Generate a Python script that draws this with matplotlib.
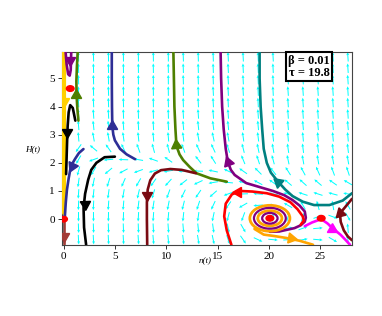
import numpy as np
import matplotlib.pyplot as plt
from matplotlib.patches import Ellipse

# direction field: screen angle (deg) of each cyan arrow, rows top -> bottom
field_n = np.linspace(0, 27.7, 20)
field_H = np.linspace(5.77, -0.73, 17)
field_angle = [
    [270, 92, 92, 91, 91, 91, 91, 91, 92, 92, 92, 93, 93, 93, 93, 94, 94, 94, 94, 94],
    [270, 92, 92, 91, 91, 91, 91, 91, 92, 92, 92, 93, 93, 93, 93, 94, 94, 94, 94, 94],
    [270, 92, 92, 91, 91, 91, 91, 91, 92, 92, 92, 93, 93, 93, 93, 94, 94, 94, 94, 94],
    [270, 93, 92, 92, 91, 91, 91, 91, 92, 92, 93, 93, 93, 93, 93, 94, 94, 94, 94, 94],
    [270, 93, 93, 92, 92, 91, 91, 92, 92, 93, 93, 93, 93, 93, 94, 94, 94, 94, 94, 94],
    [270, 94, 94, 93, 92, 92, 92, 92, 93, 94, 94, 94, 94, 94, 94, 94, 94, 94, 94, 94],
    [270, 95, 96, 96, 94, 93, 93, 93, 95, 96, 97, 96, 95, 95, 95, 95, 95, 95, 95, 95],
    [270, 95, 100, 100, 98, 96, 95, 95, 97, 100, 102, 100, 98, 97, 96, 95, 95, 95, 95, 95],
    [270, 235, 140, 125, 115, 110, 105, 105, 110, 115, 115, 108, 104, 102, 100, 98, 97, 97, 97, 97],
    [270, 240, 200, 185, 178, 170, 160, 145, 132, 128, 122, 116, 112, 108, 105, 102, 100, 100, 100, 100],
    [270, 255, 240, 220, 208, 200, 195, 190, 184, 178, 168, 155, 145, 135, 128, 122, 118, 114, 110, 108],
    [270, 262, 258, 252, 246, 240, 235, 228, 218, 205, 190, 175, 162, 152, 145, 140, 138, 140, 145, 150],
    [270, 266, 264, 262, 260, 257, 254, 250, 244, 236, 222, 200, 182, 175, 170, 166, 162, 162, 165, 170],
    [270, 268, 267, 266, 265, 263, 261, 259, 256, 252, 245, 235, 210, 185, 170, 150, 120, 105, 100, 120],
    [270, 270, 270, 269, 268, 267, 266, 265, 264, 262, 258, 255, 250, 260, 80, 75, 70, 20, 340, 300],
    [270, 272, 272, 272, 272, 272, 273, 274, 275, 276, 278, 282, 300, 330, 355, 10, 20, 5, 330, 95],
    [270, 273, 273, 273, 273, 274, 275, 276, 277, 279, 282, 288, 305, 335, 355, 5, 10, 355, 330, 100],
]

# trajectories (n, H)
yellow_n = [0.03, 0.03]
yellow_H = [5.95, 0.2]
brown_n = [0.0, 0.0]
brown_H = [0.0, -0.9]
black1_n = [1.15, 0.9, 0.65, 0.5, 0.4, 0.35, 0.3, 0.25]
black1_H = [3.5, 3.95, 4.05, 3.8, 3.3, 2.8, 2.2, 1.6]
black2_n = [5.0, 4.0, 3.2, 2.7, 2.4, 2.1, 1.95, 2.0, 2.2]
black2_H = [2.22, 2.2, 2.0, 1.75, 1.4, 0.9, 0.4, -0.3, -0.91]
blue1_n = [4.7, 4.7, 4.72, 4.75, 4.85, 5.0, 5.5, 6.15, 6.97]
blue1_H = [5.95, 5.0, 4.0, 3.3, 3.0, 2.8, 2.5, 2.3, 2.13]
blue2_n = [0.12, 0.22, 0.33, 0.5, 0.65, 0.85, 1.14, 1.5, 1.94]
blue2_H = [0.05, 0.6, 1.04, 1.45, 1.75, 1.97, 2.15, 2.35, 2.49]
green1_n = [1.45, 1.35, 1.27, 1.25, 1.3, 1.38]
green1_H = [3.5, 3.9, 4.4, 4.9, 5.4, 5.95]
green2_n = [10.7, 10.75, 10.8, 10.9, 11.0, 11.3, 11.65, 12.3, 12.95, 14.3, 15.9]
green2_H = [5.95, 5.0, 4.0, 3.2, 2.6, 2.3, 2.1, 1.85, 1.63, 1.45, 1.33]
maroon1_n = [12.9, 11.5, 10.4, 9.5, 8.9, 8.45, 8.2, 8.12, 8.12, 8.15]
maroon1_H = [1.63, 1.75, 1.78, 1.74, 1.62, 1.38, 1.05, 0.6, 0.0, -0.91]
maroon2_n = [28.1, 27.6, 27.1, 26.95, 27.0, 27.3, 27.7, 28.1]
maroon2_H = [0.72, 0.5, 0.28, 0.1, -0.1, -0.4, -0.62, -0.75]
purple1_n = [0.2, 0.3, 0.45, 0.6, 0.7, 0.75]
purple1_H = [5.95, 5.5, 5.15, 5.1, 5.3, 5.95]
purple2_n = [15.3, 15.35, 15.45, 15.6, 15.8, 16.0, 16.3, 16.67, 17.8, 19.0, 20.4,
             21.5, 22.3, 23.0, 23.5, 23.6, 23.5, 23.1, 22.5, 21.0, 20.1]
purple2_H = [5.95, 5.0, 4.0, 3.2, 2.5, 2.04, 1.75, 1.57, 1.28, 1.15, 1.0,
             0.85, 0.68, 0.48, 0.27, 0.05, -0.09, -0.22, -0.32, -0.44, -0.45]
teal_n = [19.1, 19.1, 19.2, 19.35, 19.5, 19.8, 20.2, 20.9, 21.6, 22.3, 23.3, 24.4, 25.9, 27.2, 28.1]
teal_H = [5.95, 5.0, 4.0, 3.2, 2.5, 2.0, 1.65, 1.33, 1.05, 0.82, 0.62, 0.5, 0.5, 0.66, 0.92]
red_n = [16.35, 15.9, 15.65, 15.8, 16.4, 17.2, 18.4, 19.8, 21.0, 22.1, 22.8, 23.3, 23.4, 23.1]
red_H = [-0.91, -0.4, 0.1, 0.55, 0.88, 1.0, 0.98, 0.92, 0.8, 0.6, 0.35, 0.1, -0.05, -0.2]
orange_n = [18.6, 19.5, 20.5, 21.7, 23.0, 24.3]
orange_H = [-0.35, -0.55, -0.6, -0.67, -0.77, -0.91]
magenta_n = [23.5, 24.2, 25.1, 25.7, 26.3, 27.0, 27.5, 27.9]
magenta_H = [-0.25, -0.12, 0.0, -0.15, -0.35, -0.56, -0.75, -0.91]

# spiral rings round the focus
ring_colors = ['orange', 'purple', 'orange', 'purple']
ring_w = [3.9, 3.1, 2.35, 1.5]
ring_h = [0.92, 0.74, 0.54, 0.38]

# equilibria
eq_n = [0.0, 0.65, 20.1, 25.1]
eq_H = [0.0, 4.64, 0.03, 0.03]

# direction arrows on the trajectories: n, H, screen angle, colour
arrow_n = [0.0, 0.0, 0.33, 2.05, 4.75, 0.8, 1.23, 11.0, 8.12, 26.95, 0.6, 16.0, 20.9, 17.0, 22.2, 26.2]
arrow_H = [4.2, -0.6, 3.1, 0.55, 3.3, 1.87, 4.4, 2.65, 0.86, 0.2, 5.65, 2.04, 1.33, 0.98, -0.68, -0.34]
arrow_dir = [270, 270, 270, 272, 90, 245, 90, 95, 270, 105, 270, 110, 140, 180, 350, 330]
arrow_col = ['yellow', 'brown', 'black', 'black', 'blue', 'blue', 'green', 'green',
             'maroon', 'maroon', 'purple', 'purple', 'teal', 'red', 'orange', 'magenta']

colors = {
    'yellow': '#FFD000', 'brown': '#A33A35', 'black': 'black', 'blue': '#2E2E96',
    'green': '#4E7F00', 'maroon': '#7A0A12', 'purple': '#800080', 'teal': '#008080',
    'red': '#FF0000', 'orange': '#FFA500', 'magenta': '#FF00FF',
}

plt.rcParams['font.family'] = ['Liberation Serif', 'DejaVu Serif']

fig = plt.figure(figsize=(3.82, 3.16), dpi=100)
ax = fig.add_axes([62 / 382, 71 / 316, 290 / 382, 193.3 / 316])

# cyan direction field
NN, HH = np.meshgrid(field_n, field_H)
ang = np.radians(np.array(field_angle, dtype=float))
ax.quiver(NN, HH, np.cos(ang), np.sin(ang), angles='uv', pivot='mid',
          units='dots', width=1.0, scale_units='inches', scale=10.5,
          headwidth=3.0, headlength=3.2, headaxislength=2.8,
          color='#00FFFF', zorder=1)

lw = 1.9
traj = [
    (yellow_n, yellow_H, 'yellow'), (brown_n, brown_H, 'brown'),
    (black1_n, black1_H, 'black'), (black2_n, black2_H, 'black'),
    (blue1_n, blue1_H, 'blue'), (blue2_n, blue2_H, 'blue'),
    (green1_n, green1_H, 'green'), (green2_n, green2_H, 'green'),
    (maroon1_n, maroon1_H, 'maroon'), (maroon2_n, maroon2_H, 'maroon'),
    (purple1_n, purple1_H, 'purple'), (purple2_n, purple2_H, 'purple'),
    (teal_n, teal_H, 'teal'), (red_n, red_H, 'red'),
    (orange_n, orange_H, 'orange'), (magenta_n, magenta_H, 'magenta'),
]
for xs, ys, c in traj:
    ax.plot(xs, ys, color=colors[c], lw=3.0 if c == 'yellow' else lw,
            solid_capstyle='round', zorder=3)

for c, w, h in zip(ring_colors, ring_w, ring_h):
    ax.add_patch(Ellipse((eq_n[2], eq_H[2]), w, h, fill=False,
                         ec=colors[c], lw=2.0 if c == 'orange' else 1.6, zorder=3))

for x, y, d, c in zip(arrow_n, arrow_H, arrow_dir, arrow_col):
    ax.plot(x, y, marker=(3, 0, d - 90), ms=8.5, color=colors[c], mec=colors[c], zorder=4)

for x, y in zip(eq_n, eq_H):
    ax.add_patch(Ellipse((x, y), 0.75, 0.2, color='red', zorder=5))

ax.set_xlim(-0.15, 28.1)
ax.set_ylim(-0.92, 5.95)
ax.set_xticks([0, 5, 10, 15, 20, 25])
ax.set_yticks([0, 1, 2, 3, 4, 5])
ax.tick_params(labelsize=8, length=3, width=0.7, colors='#333333', labelcolor='black', pad=2)
for sp in ax.spines.values():
    sp.set_color('#444444')
    sp.set_linewidth(0.8)

fig.text(205 / 382, 1 - 261 / 316, 'n(t)', fontsize=6.5, style='italic', ha='center', va='center')
fig.text(33 / 382, 1 - 149 / 316, 'H(t)', fontsize=6.5, style='italic', ha='center', va='center')

ax.text(0.852, 0.922, 'β = 0.01\nτ = 19.8', transform=ax.transAxes, ha='center', va='center',
        fontsize=9, fontweight='bold', linespacing=1.0, zorder=6,
        bbox=dict(boxstyle='square,pad=0.2', fc='white', ec='black', lw=1.5))

fig.savefig('out.png', dpi=100)
